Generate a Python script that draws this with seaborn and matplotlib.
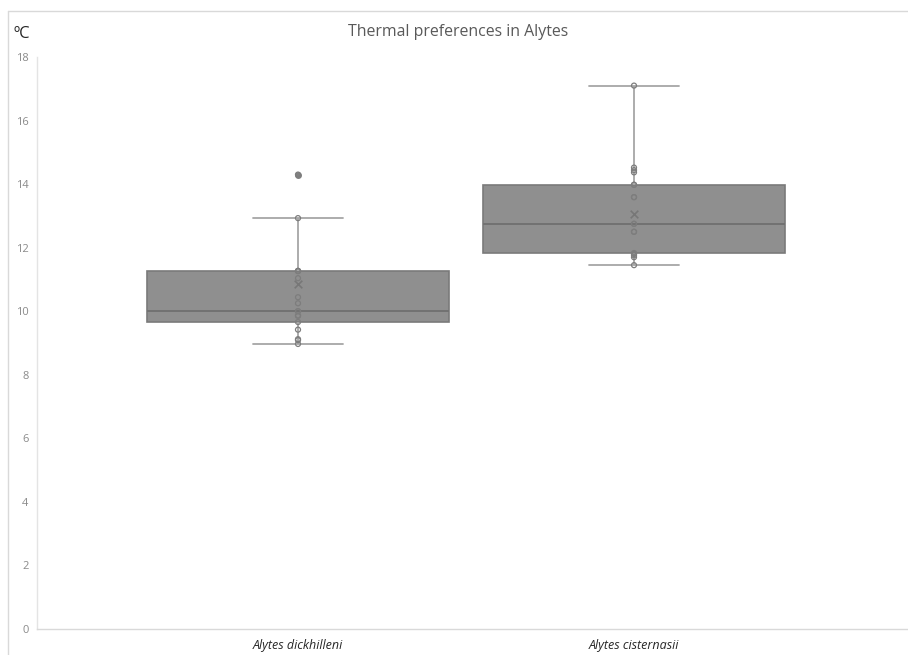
import numpy as np
import pandas as pd
import matplotlib
matplotlib.use("Agg")
import matplotlib.pyplot as plt
from matplotlib.lines import Line2D
import seaborn as sns

# =========================================================================
# DATA
# =========================================================================
species = ["Alytes dickhilleni", "Alytes cisternasii"]

temps_dickhilleni = [8.97, 9.09, 9.12, 9.42, 9.66, 9.86, 9.86, 10.00, 10.00,
                     10.25, 10.44, 11.04, 11.26, 11.27, 11.27, 12.93, 14.30]
temps_cisternasii = [11.45, 11.70, 11.76, 11.80, 11.83, 12.50, 12.50, 12.75, 12.75,
                     13.59, 13.59, 13.98, 13.98, 14.37, 14.44, 14.52, 17.10]

# mean markers as shown in the original chart
mean_temps = [10.87, 13.05]

y_ticks = [0, 2, 4, 6, 8, 10, 12, 14, 16, 18]

df = pd.DataFrame({
    "species": [species[0]] * len(temps_dickhilleni) + [species[1]] * len(temps_cisternasii),
    "temp": temps_dickhilleni + temps_cisternasii,
})
df_mean = pd.DataFrame({"species": species, "temp": mean_temps})

# =========================================================================
# PLOT
# =========================================================================
sns.set_style("white")
plt.rcParams["font.family"] = ["Open Sans", "DejaVu Sans"]

fig = plt.figure(figsize=(9.08, 6.55), dpi=100)
ax = fig.add_axes([37 / 908, 26 / 655, 1 - 37 / 908, (629 - 57) / 655])

box_fill = "#8f8f8f"
edge = "#7a7a7a"
whisk = "#a6a6a6"

sns.boxplot(
    data=df, x="species", y="temp", order=species, ax=ax,
    color=box_fill, width=0.9, whis=1.5, linewidth=1.2,
    boxprops=dict(facecolor=box_fill, edgecolor=edge),
    medianprops=dict(color="#727272", linewidth=1.4),
    whiskerprops=dict(color=whisk, linewidth=1.3),
    capprops=dict(color=whisk, linewidth=1.3),
    flierprops=dict(marker="o", markerfacecolor="#808080", markeredgecolor="#808080",
                    markersize=4),
    capwidths=0.27,
)

# inner points (hollow circles)
sns.stripplot(
    data=df, x="species", y="temp", order=species, ax=ax,
    jitter=False, marker="o", size=3.6, color="none",
    edgecolor="#7d7d7d", linewidth=0.9,
)

# mean markers
sns.scatterplot(
    data=df_mean, x="species", y="temp", ax=ax,
    marker="x", s=30, color="#777777", linewidth=1.2, zorder=5, legend=False,
)

ax.set_xlim((37 - 298) / 336, (908 - 298) / 336)
ax.set_ylim(0, 18)
ax.set_yticks(y_ticks)
ax.set_yticklabels([str(t) for t in y_ticks], fontsize=8, color="#8a8a8a")
ax.tick_params(axis="y", length=0, pad=6)
ax.tick_params(axis="x", length=0, pad=7)
for lbl in ax.get_xticklabels():
    lbl.set_fontstyle("italic")
    lbl.set_fontsize(9)
    lbl.set_color("#262626")
ax.set_xlabel("")
ax.set_ylabel("")

for side in ["top", "right"]:
    ax.spines[side].set_visible(False)
ax.spines["left"].set_color("#e4e4e4")
ax.spines["bottom"].set_color("#d9d9d9")
ax.spines["left"].set_linewidth(1.0)
ax.spines["bottom"].set_linewidth(1.0)

# titles
fig.text(458 / 908, 1 - 32 / 655, "Thermal preferences in Alytes",
         ha="center", va="center", fontsize=11.4, color="#595959")
fig.text(14 / 908, 1 - 34 / 655, "ºC", ha="left", va="center",
         fontsize=12, color="#262626")

# chart area border (cropped at right/bottom)
fig.add_artist(Line2D([8 / 908, 1], [1 - 11 / 655, 1 - 11 / 655],
                      transform=fig.transFigure, color="#d9d9d9", linewidth=1))
fig.add_artist(Line2D([8 / 908, 8 / 908], [0, 1 - 11 / 655],
                      transform=fig.transFigure, color="#d9d9d9", linewidth=1))

fig.savefig("out.png", dpi=100)
